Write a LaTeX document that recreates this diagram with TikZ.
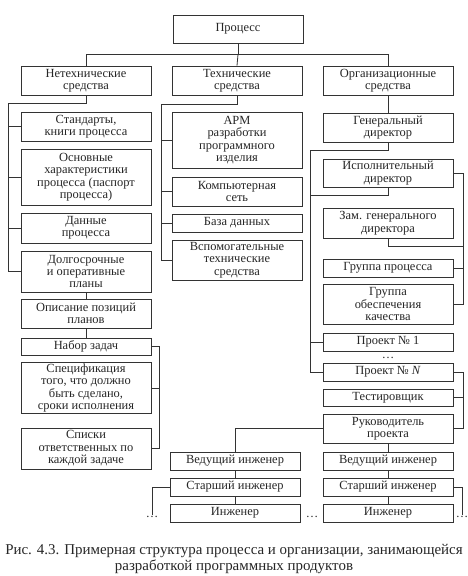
\documentclass[tikz,border=0pt]{standalone}
\usepackage{fontspec}
\setmainfont{Liberation Serif}
\usetikzlibrary{calc}

\begin{document}
\begin{tikzpicture}[x=1bp,y=-1bp,
  box/.style={draw=black!80,line width=0.8bp,minimum width=130bp,inner sep=1bp,
    align=center,font=\fontsize{12.5}{12.5}\selectfont,text=black!85},
  link/.style={draw=black!80,line width=0.8bp},
  gap/.style={font=\fontsize{12.5}{12.5}\selectfont,inner sep=1bp,anchor=base,text=black!85}]
\useasboundingbox (0,0) rectangle (468,576);
% top level
\node[box,minimum height=28bp] (proc) at (238,29) {Процесс};
\node[box,minimum height=29bp] (neteh) at (86,80.5) {Нетехнические\\средства};
\node[box,minimum height=29bp] (teh) at (237,80.5) {Технические\\средства};
\node[box,minimum height=29bp] (org) at (388,80.5) {Организационные\\средства};
\draw[link] (proc.south) -- ++(0,11) coordinate (hub);
\draw[link] (neteh.north) |- (hub) -| (org.north);
\draw[link] (hub) -- (teh.north);
% non-technical means
\node[box,minimum height=29bp] (stand) at (86,126.5) {Стандарты,\\книги процесса};
\node[box,minimum height=56bp] (osn) at (86,177) {Основные\\характеристики\\процесса (паспорт\\процесса)};
\node[box,minimum height=30bp] (dann) at (86,228) {Данные\\процесса};
\node[box,minimum height=41bp] (dolg) at (86,271.5) {Долгосрочные\\и оперативные\\планы};
\node[box,minimum height=29bp] (opis) at (86,313.5) {Описание позиций\\планов};
\node[box,minimum height=17bp] (nabor) at (86,346.5) {Набор задач};
\node[box,minimum height=50bp] (spec) at (86,388) {Спецификация\\того, что должно\\быть сделано,\\сроки исполнения};
\node[box,minimum height=41bp] (spisk) at (86,448.5) {Списки\\ответственных по\\каждой задаче};
\draw[link] (neteh.south) -- ++(0,8) -| ($(dolg.west)+(-12,0)$) -- (dolg.west);
\foreach \n in {stand,osn,dann} \draw[link] (\n.west) -- ++(-12,0);
\draw[link] (dolg.south) -- (opis.north);
\draw[link] (opis.south) -- (nabor.north);
\draw[link] (nabor.east) -- ++(8,0) |- (spisk.east);
\draw[link] (spec.east) -- ++(8,0);
% technical means
\node[box,minimum height=56bp] (arm) at (237,140) {АРМ\\разработки\\программного\\изделия};
\node[box,minimum height=29bp] (komp) at (237,191.5) {Компьютерная\\сеть};
\node[box,minimum height=18bp] (baza) at (237,223) {База данных};
\node[box,minimum height=40bp] (vspom) at (237,260) {Вспомогательные\\технические\\средства};
\draw[link] (teh.south) -- ++(0,9) -| ($(vspom.west)+(-10,0)$) -- (vspom.west);
\foreach \n in {arm,komp,baza} \draw[link] (\n.west) -- ++(-10,0);
% organisational means
\node[box,minimum height=29bp] (gen) at (388,127.5) {Генеральный\\директор};
\node[box,minimum height=28bp] (isp) at (388,173) {Исполнительный\\директор};
\node[box,minimum height=30bp] (zam) at (388,223) {Зам. генерального\\директора};
\node[box,minimum height=18bp] (grp) at (388,268) {Группа процесса};
\node[box,minimum height=40bp] (grpk) at (388,304) {Группа\\обеспечения\\качества};
\node[box,minimum height=18bp] (pr1) at (388,342) {Проект № 1};
\node[gap] (prdots) at (388,358) {\ldots};
\node[box,minimum height=18bp] (prN) at (388,372) {Проект № \textit{N}};
\node[box,minimum height=17bp] (test) at (388,397.5) {Тестировщик};
\node[box,minimum height=29bp] (ruk) at (388,428.5) {Руководитель\\проекта};
\draw[link] (org.south) -- (gen.north);
\draw[link] (gen.south) -- ++(0,8) -| ($(prN.west)+(-12,0)$) -- (prN.west);
\draw[link] (pr1.west) -- ++(-12,0);
\draw[link] (isp.south) |- ($(isp.south -| isp.west)+(-12,8)$);
\draw[link] (isp.east) -- ++(10,0) |- (grpk.east);
\draw[link] (grp.east) -- ++(10,0);
\draw[link] (zam.south) |- ($(zam.south -| zam.east)+(10,8)$);
\draw[link] (prN.east) -- ++(10,0) |- (ruk.east);
\draw[link] (test.east) -- ++(10,0);
% engineers
\node[box,minimum height=18bp] (ved1) at (235,461) {Ведущий инженер};
\node[box,minimum height=18bp] (star1) at (235,487) {Старший инженер};
\node[box,minimum height=18bp] (inzh1) at (235,513) {Инженер};
\node[box,minimum height=18bp] (ved2) at (388,461) {Ведущий инженер};
\node[box,minimum height=18bp] (star2) at (388,487) {Старший инженер};
\node[box,minimum height=18bp] (inzh2) at (388,513) {Инженер};
\node[gap] (dl) at (152,517) {\ldots};
\node[gap] (dm) at (312,517) {\ldots};
\node[gap] (dr) at (462,517) {\ldots};
\draw[link] (ruk.west) -| (ved1.north);
\draw[link] (ruk.south) -- (ved2.north);
\foreach \a/\b in {ved1/star1,star1/inzh1,ved2/star2,star2/inzh2}
  \draw[link] (\a.south) -- (\b.north);
\draw[link] (star1.west) -| (dl.north);
\draw[link] (star2.east) -| (dr.north);
% caption
\node[align=center,font=\fontsize{15}{16}\selectfont,text=black!85] (cap) at (234,559)
  {Рис. 4.3. Примерная структура процесса и организации, занимающейся\\
   разработкой программных продуктов};
\end{tikzpicture}
\end{document}
